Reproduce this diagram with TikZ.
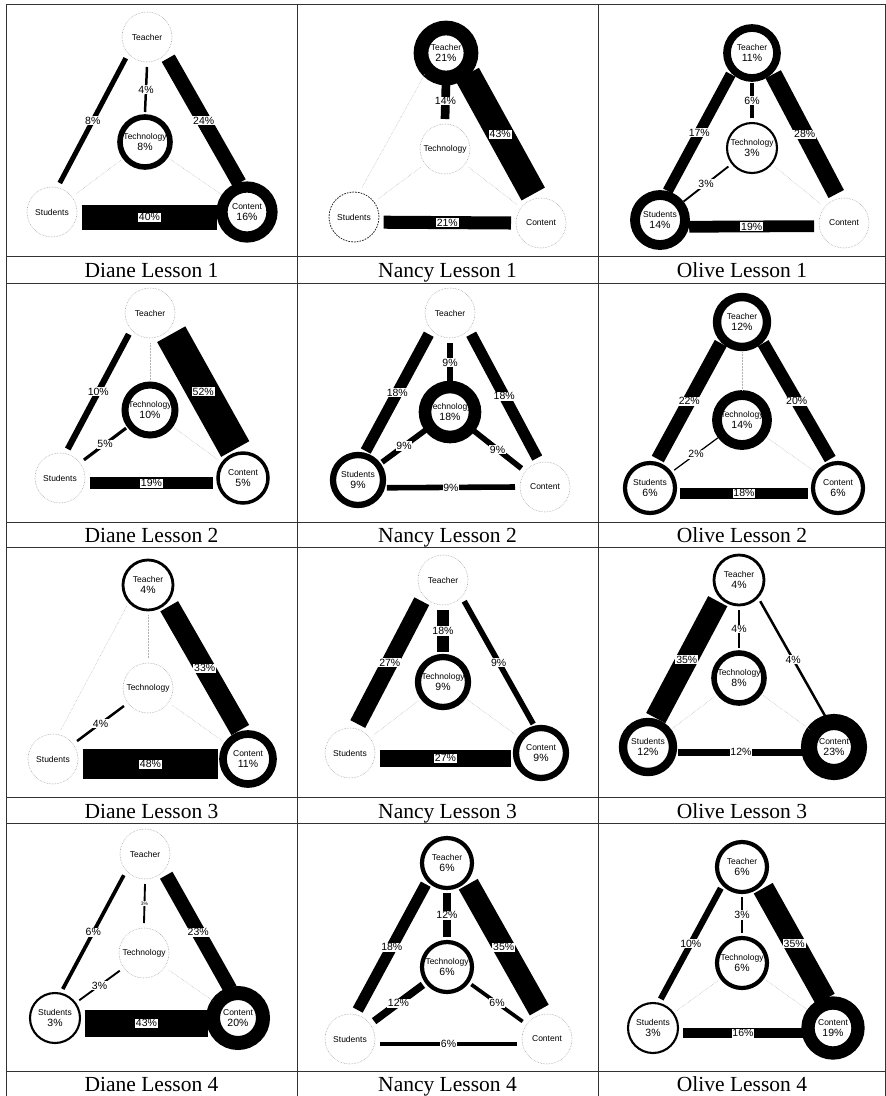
\documentclass[tikz,border=0pt]{standalone}
\usepackage{fontspec}
\setmainfont{Liberation Serif}
\newfontfamily\arial{Liberation Sans}
\usetikzlibrary{positioning}
\newcommand{\pc}[1]{{\fontsize{10.5}{12}\selectfont #1\%}}
\tikzset{
  actor/.style={circle, minimum size=50pt, inner sep=0pt, outer sep=5pt, fill=white, align=center, font=\arial\fontsize{8.5}{11}\selectfont},
  idle/.style={actor, draw=gray!70, densely dotted, line width=0.6pt},
  shy/.style={actor, draw=black!85, dash pattern=on 1.6pt off 1.2pt, line width=0.8pt},
  busy/.style={actor, draw=black, solid, line width={0.7pt*#1}},
  tie/.style={line width={0.62pt*#1}},
  notie/.style={draw=gray!60, densely dotted, line width=0.5pt},
  pct/.style={fill=white, inner sep=0.8pt, font=\arial\fontsize{10.5}{12}\selectfont},
  lessonlbl/.style={anchor=base, font=\fontsize{21.5}{24}\selectfont},
  gridline/.style={draw=black!80, line width=1pt}
}
\begin{document}
\begin{tikzpicture}[x=1pt, y=-1pt]
  \useasboundingbox (0,0) rectangle (886,1096);
  \foreach \y in {4,256,283,522,547,797,823,1071} \draw[gridline] (6,\y) -- (885,\y);
  \foreach \x in {6,297,598,885} \draw[gridline] (\x,4) -- (\x,1096);

  % Diane Lesson 1
  \node[idle] (teaD1) at (147,37) {Teacher};
  \node[busy=8] (tecD1) at (145,142) {Technology\\\pc{8}};
  \node[idle] (stuD1) at (52,212) {Students};
  \node[busy=16] (conD1) at (247,212) {Content\\\pc{16}};
  \draw[tie=4] (teaD1.-90) -- node[pct]{4\%} (tecD1.90);
  \draw[tie=8] (teaD1.-135) -- node[pct]{8\%} (stuD1.75);
  \draw[tie=24] (teaD1.-45) -- node[pct]{24\%} (conD1.105);
  \draw[tie=40] (stuD1.-10) -- node[pct]{40\%} (conD1.190);
  \draw[notie] (stuD1) -- (tecD1);
  \draw[notie] (tecD1) -- (conD1);
  \node[lessonlbl] (capD1) at (151.5,277) {Diane Lesson 1};

  % Nancy Lesson 1
  \node[busy=21] (teaN1) at (446,53) {Teacher\\\pc{21}};
  \node[idle] (tecN1) at (445,149) {Technology};
  \node[shy] (stuN1) at (354,217) {Students};
  \node[idle] (conN1) at (541,223) {Content};
  \draw[tie=14] (teaN1.-90) -- node[pct]{14\%} (tecN1.90);
  \draw[notie] (teaN1.-135) -- (stuN1.75);
  \draw[tie=43] (teaN1.-45) -- node[pct]{43\%} (conN1.105);
  \draw[tie=21] (stuN1.-10) -- node[pct]{21\%} (conN1.180);
  \draw[notie] (stuN1) -- (tecN1);
  \draw[notie] (tecN1) -- (conN1);
  \node[lessonlbl] (capN1) at (447.5,277) {Nancy Lesson 1};

  % Olive Lesson 1
  \node[busy=11] (teaO1) at (752,53) {Teacher\\\pc{11}};
  \node[busy=3] (tecO1) at (752,148) {Technology\\\pc{3}};
  \node[busy=14] (stuO1) at (660,220) {Students\\\pc{14}};
  \node[idle] (conO1) at (844,223) {Content};
  \draw[tie=6] (teaO1.-90) -- node[pct]{6\%} (tecO1.90);
  \draw[tie=17] (teaO1.-135) -- node[pct]{17\%} (stuO1.75);
  \draw[tie=28] (teaO1.-45) -- node[pct]{28\%} (conO1.105);
  \draw[tie=19] (stuO1.-13) -- node[pct]{19\%} (conO1.186);
  \draw[tie=3] (stuO1) -- node[pct]{3\%} (tecO1);
  \draw[notie] (tecO1) -- (conO1);
  \node[lessonlbl] (capO1) at (742,277) {Olive Lesson 1};

  % Diane Lesson 2
  \node[idle] (teaD2) at (150,313) {Teacher};
  \node[busy=10] (tecD2) at (150,410) {Technology\\\pc{10}};
  \node[idle] (stuD2) at (60,478) {Students};
  \node[busy=5] (conD2) at (243,478) {Content\\\pc{5}};
  \draw[notie] (teaD2.-90) -- (tecD2.90);
  \draw[tie=10] (teaD2.-135) -- node[pct]{10\%} (stuD2.75);
  \draw[tie=52] (teaD2.-45) -- node[pct]{52\%} (conD2.105);
  \draw[tie=19] (stuD2.-10) -- node[pct]{19\%} (conD2.190);
  \draw[tie=5] (stuD2) -- node[pct]{5\%} (tecD2);
  \draw[notie] (tecD2) -- (conD2);
  \node[lessonlbl] (capD2) at (151.5,542) {Diane Lesson 2};

  % Nancy Lesson 2
  \node[idle] (teaN2) at (450,313) {Teacher};
  \node[busy=18] (tecN2) at (450,412) {Technology\\\pc{18}};
  \node[busy=9] (stuN2) at (358,480) {Students\\\pc{9}};
  \node[idle] (conN2) at (545,487) {Content};
  \draw[tie=9] (teaN2.-90) -- node[pct]{9\%} (tecN2.90);
  \draw[tie=18] (teaN2.-135) -- node[pct]{18\%} (stuN2.75);
  \draw[tie=18] (teaN2.-45) -- node[pct]{18\%} (conN2.105);
  \draw[tie=9] (stuN2.-15) -- node[pct]{9\%} (conN2.180);
  \draw[tie=9] (stuN2) -- node[pct]{9\%} (tecN2);
  \draw[tie=9] (tecN2) -- node[pct]{9\%} (conN2);
  \node[lessonlbl] (capN2) at (447.5,542) {Nancy Lesson 2};

  % Olive Lesson 2
  \node[busy=12] (teaO2) at (742,322) {Teacher\\\pc{12}};
  \node[busy=14] (tecO2) at (742,420) {Technology\\\pc{14}};
  \node[busy=6] (stuO2) at (650,488) {Students\\\pc{6}};
  \node[busy=6] (conO2) at (838,488) {Content\\\pc{6}};
  \draw[notie] (teaO2.-90) -- (tecO2.90);
  \draw[tie=22] (teaO2.-135) -- node[pct]{22\%} (stuO2.75);
  \draw[tie=20] (teaO2.-45) -- node[pct]{20\%} (conO2.105);
  \draw[tie=18] (stuO2.-10) -- node[pct]{18\%} (conO2.190);
  \draw[tie=2] (stuO2) -- node[pct]{2\%} (tecO2);
  \draw[notie] (tecO2) -- (conO2);
  \node[lessonlbl] (capO2) at (742,542) {Olive Lesson 2};

  % Diane Lesson 3
  \node[busy=4] (teaD3) at (148,585) {Teacher\\\pc{4}};
  \node[idle] (tecD3) at (148,688) {Technology};
  \node[idle] (stuD3) at (53,759) {Students};
  \node[busy=11] (conD3) at (248,759) {Content\\\pc{11}};
  \draw[notie] (teaD3.-90) -- (tecD3.90);
  \draw[notie] (teaD3.-135) -- (stuD3.75);
  \draw[tie=33] (teaD3.-45) -- node[pct]{33\%} (conD3.105);
  \draw[tie=48] (stuD3.-10) -- node[pct]{48\%} (conD3.190);
  \draw[tie=4] (stuD3) -- node[pct]{4\%} (tecD3);
  \draw[notie] (tecD3) -- (conD3);
  \node[lessonlbl] (capD3) at (151.5,818) {Diane Lesson 3};

  % Nancy Lesson 3
  \node[idle] (teaN3) at (443,580) {Teacher};
  \node[busy=9] (tecN3) at (443,682) {Technology\\\pc{9}};
  \node[idle] (stuN3) at (350,753) {Students};
  \node[busy=9] (conN3) at (541,753) {Content\\\pc{9}};
  \draw[tie=18] (teaN3.-90) -- node[pct]{18\%} (tecN3.90);
  \draw[tie=27] (teaN3.-135) -- node[pct]{27\%} (stuN3.75);
  \draw[tie=9] (teaN3.-45) -- node[pct]{9\%} (conN3.105);
  \draw[tie=27] (stuN3.-10) -- node[pct]{27\%} (conN3.190);
  \draw[notie] (stuN3) -- (tecN3);
  \draw[notie] (tecN3) -- (conN3);
  \node[lessonlbl] (capN3) at (447.5,818) {Nancy Lesson 3};

  % Olive Lesson 3
  \node[busy=4] (teaO3) at (739,580) {Teacher\\\pc{4}};
  \node[busy=8] (tecO3) at (739,678) {Technology\\\pc{8}};
  \node[busy=12] (stuO3) at (648,747) {Students\\\pc{12}};
  \node[busy=23] (conO3) at (834,747) {Content\\\pc{23}};
  \draw[tie=4] (teaO3.-90) -- node[pct]{4\%} (tecO3.90);
  \draw[tie=35] (teaO3.-135) -- node[pct]{35\%} (stuO3.75);
  \draw[tie=4] (teaO3.-45) -- node[pct]{4\%} (conO3.105);
  \draw[tie=12] (stuO3.-10) -- node[pct]{12\%} (conO3.190);
  \draw[notie] (stuO3) -- (tecO3);
  \draw[notie] (tecO3) -- (conO3);
  \node[lessonlbl] (capO3) at (742,818) {Olive Lesson 3};

  % Diane Lesson 4
  \node[idle] (teaD4) at (145,854) {Teacher};
  \node[idle] (tecD4) at (144,953) {Technology};
  \node[busy=3] (stuD4) at (55,1018) {Students\\\pc{3}};
  \node[busy=20] (conD4) at (238,1018) {Content\\\pc{20}};
  \draw[tie=3] (teaD4.-90) -- node[pct, font=\arial\fontsize{5}{6}\selectfont]{3\%} (tecD4.90);
  \draw[tie=6] (teaD4.-135) -- node[pct]{6\%} (stuD4.75);
  \draw[tie=23] (teaD4.-45) -- node[pct]{23\%} (conD4.105);
  \draw[tie=43] (stuD4.-10) -- node[pct]{43\%} (conD4.190);
  \draw[tie=3] (stuD4) -- node[pct]{3\%} (tecD4);
  \draw[notie] (tecD4) -- (conD4);
  \node[lessonlbl] (capD4) at (151.5,1091) {Diane Lesson 4};

  % Nancy Lesson 4
  \node[busy=6] (teaN4) at (447,863) {Teacher\\\pc{6}};
  \node[busy=6] (tecN4) at (447,967) {Technology\\\pc{6}};
  \node[idle] (stuN4) at (350,1039) {Students};
  \node[idle] (conN4) at (547,1039) {Content};
  \draw[tie=12] (teaN4.-90) -- node[pct]{12\%} (tecN4.90);
  \draw[tie=18] (teaN4.-135) -- node[pct]{18\%} (stuN4.75);
  \draw[tie=35] (teaN4.-45) -- node[pct]{35\%} (conN4.105);
  \draw[tie=6] (stuN4.-10) -- node[pct]{6\%} (conN4.190);
  \draw[tie=12] (stuN4) -- node[pct]{12\%} (tecN4);
  \draw[tie=6] (tecN4) -- node[pct]{6\%} (conN4);
  \node[lessonlbl] (capN4) at (447.5,1091) {Nancy Lesson 4};

  % Olive Lesson 4
  \node[busy=6] (teaO4) at (742,867) {Teacher\\\pc{6}};
  \node[busy=6] (tecO4) at (742,963) {Technology\\\pc{6}};
  \node[busy=3] (stuO4) at (653,1028) {Students\\\pc{3}};
  \node[busy=19] (conO4) at (833,1028) {Content\\\pc{19}};
  \draw[tie=3] (teaO4.-90) -- node[pct]{3\%} (tecO4.90);
  \draw[tie=10] (teaO4.-135) -- node[pct]{10\%} (stuO4.75);
  \draw[tie=35] (teaO4.-45) -- node[pct]{35\%} (conO4.105);
  \draw[tie=16] (stuO4.-10) -- node[pct]{16\%} (conO4.190);
  \draw[notie] (stuO4) -- (tecO4);
  \draw[notie] (tecO4) -- (conO4);
  \node[lessonlbl] (capO4) at (742,1091) {Olive Lesson 4};
\end{tikzpicture}
\end{document}
